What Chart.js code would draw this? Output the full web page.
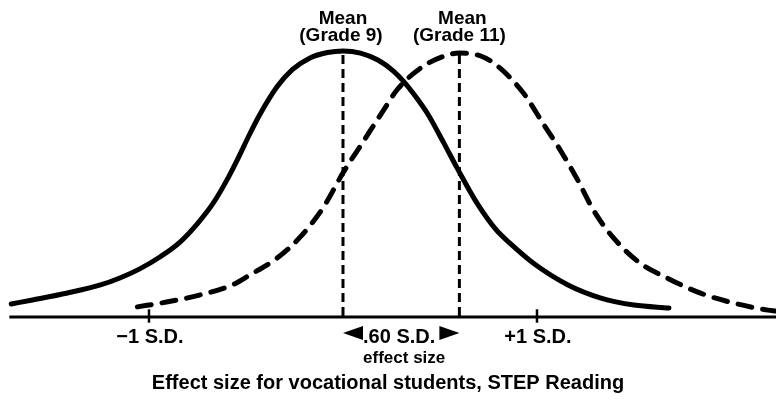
<!DOCTYPE html>
<html>
<head>
<meta charset="utf-8">
<script src="https://cdn.jsdelivr.net/npm/chart.js@4"></script>
<style>
  body { margin: 0; background: #fff; }
  canvas { display: block; }
</style>
</head>
<body>
<canvas id="effectChart" width="776" height="402"></canvas>
<script>
// x in S.D. units (Grade 9 mean = 0), y = height relative to the Grade 9 peak
const grade9X = [-1.71, -1.60, -1.42, -1.25, -1.15, -1.05, -0.94, -0.84, -0.75, -0.67, -0.60, -0.55, -0.48, -0.43, -0.34, -0.26, -0.17, -0.08, 0, 0.09, 0.18, 0.26, 0.31, 0.38, 0.44, 0.52, 0.59, 0.69, 0.79, 0.86, 0.98, 1.16, 1.33, 1.50, 1.68];
const grade9Y = [0.045, 0.060, 0.086, 0.116, 0.142, 0.175, 0.222, 0.276, 0.345, 0.420, 0.505, 0.575, 0.680, 0.750, 0.855, 0.920, 0.963, 0.983, 0.989, 0.981, 0.955, 0.914, 0.877, 0.813, 0.750, 0.645, 0.550, 0.422, 0.321, 0.272, 0.198, 0.116, 0.067, 0.041, 0.030];

const grade11X = [-1.06, -0.91, -0.74, -0.57, -0.48, -0.34, -0.22, -0.10, 0, 0.10, 0.21, 0.28, 0.41, 0.54, 0.60, 0.71, 0.79, 0.93, 1.03, 1.12, 1.21, 1.29, 1.39, 1.53, 1.67, 1.84, 2.01, 2.19, 2.23];
const grade11Y = [0.034, 0.052, 0.078, 0.116, 0.153, 0.216, 0.295, 0.407, 0.534, 0.646, 0.769, 0.845, 0.930, 0.974, 0.981, 0.970, 0.937, 0.832, 0.720, 0.619, 0.507, 0.396, 0.295, 0.198, 0.142, 0.086, 0.049, 0.022, 0.019];

const meanX = [0, 0.60];
const meanTop = [0.99, 0.98];
const meanLabels = [["Mean", "(Grade 9)"], ["Mean", "(Grade 11)"]];

const sdTicks = [-1, 1];
const sdLabels = ["\u22121 S.D.", "+1 S.D."];

const effectLabel = ".60 S.D.";
const effectSub = "effect size";
const caption = "Effect size for vocational students, STEP Reading";

function toPoints(xs, ys) {
  return xs.map((x, i) => ({ x: x, y: ys[i] }));
}

function vLine(x, y0, y1, width, dash) {
  return {
    data: [{ x: x, y: y0 }, { x: x, y: y1 }],
    borderColor: "#000",
    borderWidth: width,
    borderDash: dash,
    pointRadius: 0,
    showLine: true,
    clip: false
  };
}

const datasets = [
  {
    label: "Grade 9",
    data: toPoints(grade9X, grade9Y),
    borderColor: "#000",
    borderWidth: 5,
    borderCapStyle: "round",
    pointRadius: 0,
    showLine: true,
    cubicInterpolationMode: "monotone",
    clip: false
  },
  {
    label: "Grade 11",
    data: toPoints(grade11X, grade11Y),
    borderColor: "#000",
    borderWidth: 5,
    borderCapStyle: "round",
    borderDash: [14, 11],
    pointRadius: 0,
    showLine: true,
    cubicInterpolationMode: "monotone",
    clip: false
  },
  {
    label: "axis",
    data: [{ x: -1.72, y: -0.004 }, { x: 2.232, y: -0.004 }],
    borderColor: "#000",
    borderWidth: 3,
    pointRadius: 0,
    showLine: true,
    clip: false
  }
];

meanX.forEach((x, i) => datasets.push(vLine(x, 0, meanTop[i], 3, [9, 5])));
sdTicks.forEach(x => datasets.push(vLine(x, -0.025, 0.025, 2.5, [])));

const annotations = {
  id: "annotations",
  afterDatasetsDraw(chart) {
    const ctx = chart.ctx;
    const xs = chart.scales.x;
    const base = chart.scales.y.getPixelForValue(0);
    ctx.save();
    ctx.fillStyle = "#000";
    ctx.textAlign = "center";
    ctx.textBaseline = "alphabetic";

    // mean labels above the peaks
    ctx.font = "bold 19px 'Liberation Sans', Arial, sans-serif";
    meanX.forEach((x, i) => {
      const px = xs.getPixelForValue(x);
      ctx.fillText(meanLabels[i][0], px + (i ? 3 : 0), 24);
      ctx.fillText(meanLabels[i][1], px - (i ? 0 : 2), 41);
    });

    // S.D. labels
    ctx.font = "bold 20px 'Liberation Sans', Arial, sans-serif";
    sdTicks.forEach((x, i) => {
      ctx.fillText(sdLabels[i], xs.getPixelForValue(x) + 1, base + 27);
    });

    // effect size arrow
    const left = xs.getPixelForValue(meanX[0]);
    const right = xs.getPixelForValue(meanX[1]);
    const ay = base + 17;
    ctx.beginPath();
    ctx.moveTo(left, ay);
    ctx.lineTo(left + 20, ay - 7);
    ctx.lineTo(left + 20, ay + 7);
    ctx.closePath();
    ctx.fill();
    ctx.beginPath();
    ctx.moveTo(right, ay);
    ctx.lineTo(right - 20, ay - 7);
    ctx.lineTo(right - 20, ay + 7);
    ctx.closePath();
    ctx.fill();
    ctx.fillText(effectLabel, (left + right) / 2 - 2, base + 27);

    ctx.font = "bold 17px 'Liberation Sans', Arial, sans-serif";
    ctx.fillText(effectSub, (left + right) / 2 + 3, base + 47);

    // caption
    ctx.font = "bold 20px 'Liberation Sans', Arial, sans-serif";
    ctx.fillText(caption, 388, base + 73);
    ctx.restore();
  }
};

new Chart(document.getElementById("effectChart"), {
  type: "scatter",
  data: { datasets: datasets },
  options: {
    responsive: false,
    animation: false,
    layout: { padding: { top: 0, bottom: 86, left: 0, right: 0 } },
    plugins: {
      legend: { display: false },
      tooltip: { enabled: false }
    },
    scales: {
      x: { type: "linear", display: false, min: -1.768, max: 2.232 },
      y: { type: "linear", display: false, min: 0, max: 1.179 }
    }
  },
  plugins: [annotations]
});
</script>
</body>
</html>
